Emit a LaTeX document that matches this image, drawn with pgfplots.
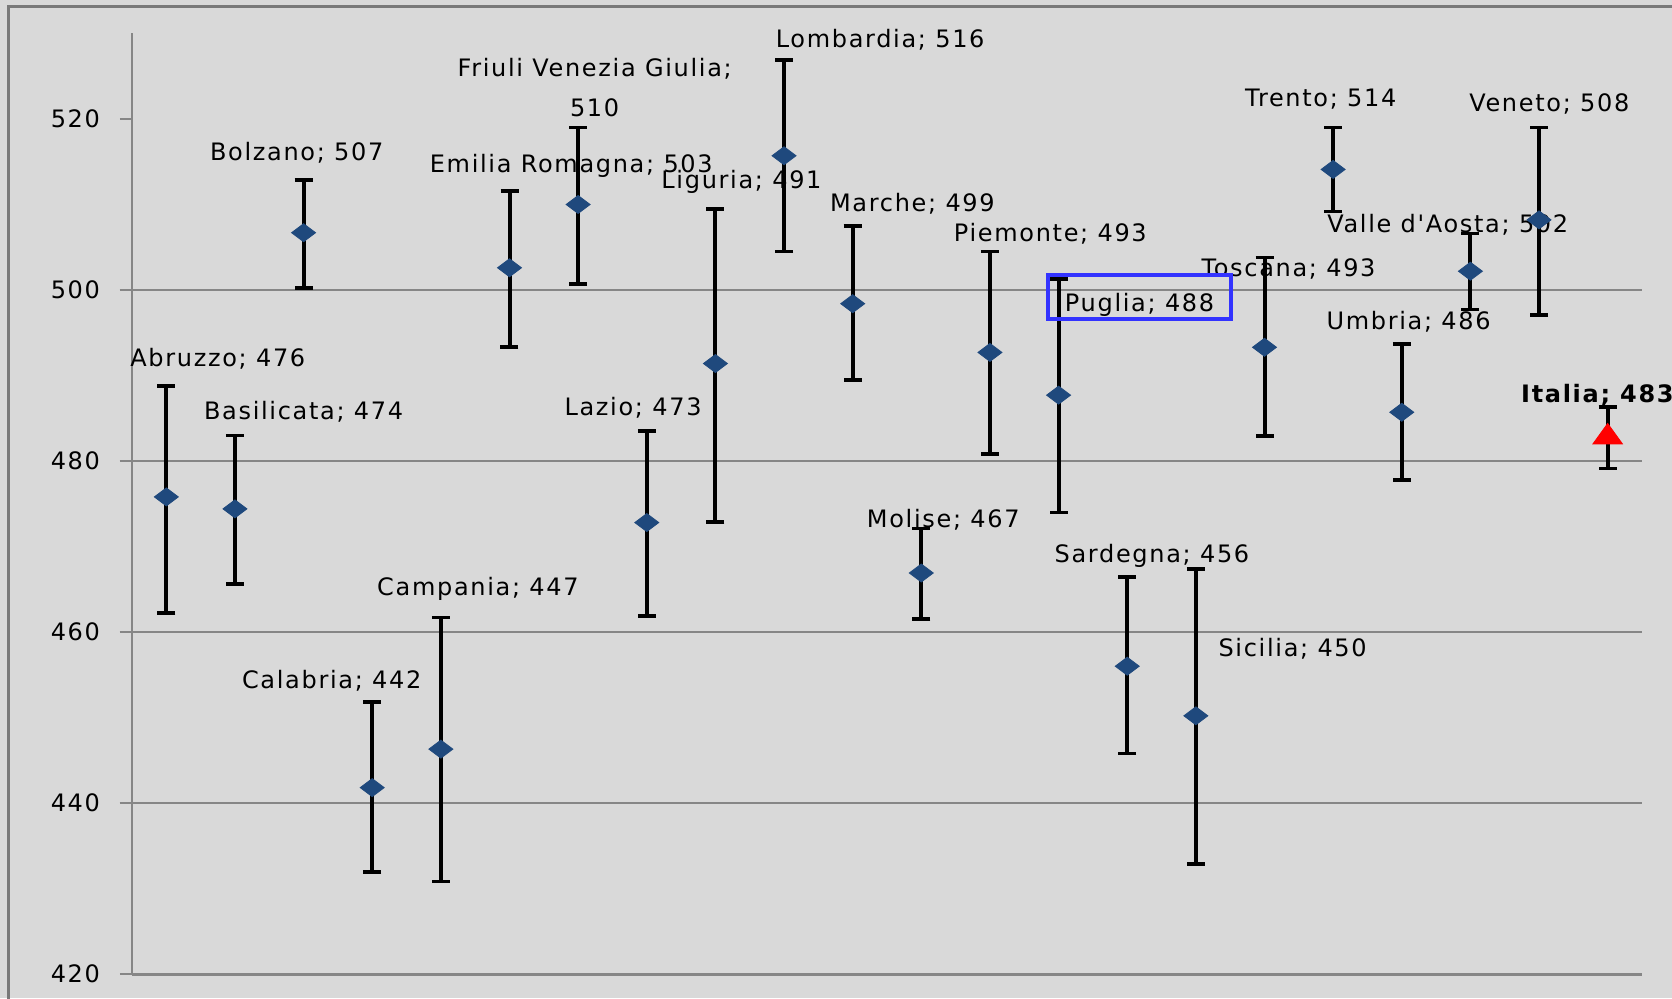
\documentclass[border=0pt]{standalone}
\usepackage{fontspec}
\setmainfont{DejaVu Sans}[LetterSpace=7]
\newfontfamily\plainfont{DejaVu Sans}[LetterSpace=7]
\usepackage{pgfplots}
\usepackage{pgfplotstable}
\pgfplotsset{compat=1.18}
\definecolor{bg}{HTML}{D9D9D9}
\definecolor{axgray}{HTML}{868686}
\definecolor{mkblue}{HTML}{1F497D}
\definecolor{boxblue}{HTML}{3333FF}

% idx, value, error plus, error minus
\pgfplotstableread{
x y ep em
0 475.8 13.0 13.6
1 474.4 8.6 8.8
2 506.7 6.2 6.5
3 441.8 10.0 9.9
4 446.3 15.4 15.5
5 502.6 9.0 9.3
6 510.0 9.0 9.3
7 472.8 10.7 10.9
8 491.4 18.1 18.5
9 515.7 11.2 11.2
10 498.4 9.1 8.9
11 466.9 5.2 5.4
12 492.7 11.8 11.9
13 487.7 13.6 13.7
14 456.0 10.4 10.2
15 450.2 17.2 17.3
16 493.3 10.5 10.4
17 514.1 4.9 4.9
18 485.7 8.0 7.9
19 502.2 4.4 4.5
20 508.2 10.8 11.1
}\regioni
\pgfplotstableread{
x y ep em
21 482.8 3.5 3.7
}\italia

\begin{document}
\begin{tikzpicture}
\useasboundingbox (-66pt,-12pt) rectangle (770pt,487pt);
\fill[bg] (-66pt,-12pt) rectangle (770pt,487pt);
\draw[axgray!90!black, line width=1.5pt] (-61.5pt,-40pt) rectangle (800pt,483.5pt);
\begin{axis}[
    at={(0,0)}, anchor=south west,
    scale only axis,
    width=755pt, height=470.25pt,
    xmin=-0.5, xmax=21.5,
    ymin=420, ymax=530,
    axis x line*=bottom, axis y line*=left,
    x axis line style={axgray, line width=1.5pt},
    y axis line style={axgray, line width=1pt},
    xtick=\empty,
    ytick={420,440,...,520},
    extra y ticks={440,460,480,500},
    extra y tick labels={},
    extra y tick style={grid=major, major grid style={axgray, line width=0.6pt}},
    major tick length=6pt,
    tick align=outside,
    y tick style={axgray, line width=0.8pt},
    every tick label/.append style={font=\fontsize{12}{14}\selectfont},
    yticklabel style={xshift=-6.5pt},
    /pgf/number format/assume math mode=true,
    clip=false,
]
\addplot[only marks, mark=diamond*, mark size=6pt,
    mark options={rotate=90, fill=mkblue, draw=mkblue},
    error bars/.cd, y dir=both, y explicit,
    error bar style={black, line width=2pt},
    error mark options={black, line width=1.8pt, mark size=4.5pt, rotate=90}]
    table[x=x, y=y, y error plus=ep, y error minus=em] {\regioni};
\addplot[only marks, mark=triangle*, mark size=8.5pt,
    mark options={fill=red, draw=red, yscale=0.8},
    error bars/.cd, y dir=both, y explicit,
    error bar style={black, line width=2pt},
    error mark options={black, line width=1.8pt, mark size=4.5pt, rotate=90}]
    table[x=x, y=y, y error plus=ep, y error minus=em] {\italia};

\begin{scope}[every node/.style={font=\fontsize{12}{14}\selectfont, inner sep=0pt}]
\node at (axis cs:0.75,491.9) {Abruzzo; 476};
\node at (axis cs:2.0,485.7) {Basilicata; 474};
\node at (axis cs:1.9,516.0) {Bolzano; 507};
\node at (axis cs:2.41,454.3) {Calabria; 442};
\node at (axis cs:4.54,465.0) {Campania; 447};
\node at (axis cs:5.9,514.5) {Emilia Romagna; 503};
\node[align=center, font=\fontsize{12}{20}\selectfont] at (axis cs:6.24,523.7) {Friuli Venezia Giulia;\\510};
\node at (axis cs:6.8,486.2) {Lazio; 473};
\node at (axis cs:8.38,512.6) {Liguria; 491};
\node at (axis cs:10.4,529.3) {Lombardia; 516};
\node at (axis cs:10.87,510.1) {Marche; 499};
\node at (axis cs:11.32,473.1) {Molise; 467};
\node at (axis cs:12.88,506.6) {Piemonte; 493};
\node at (axis cs:14.18,498.3) {Puglia; 488};
\node at (axis cs:14.36,468.9) {Sardegna; 456};
\node at (axis cs:16.41,458.0) {Sicilia; 450};
\node at (axis cs:16.35,502.5) {Toscana; 493};
\node at (axis cs:16.82,522.3) {Trento; 514};
\node at (axis cs:18.1,496.3) {Umbria; 486};
\node[font=\fontsize{12}{14}\plainfont] at (axis cs:18.67,507.6) {Valle d'Aosta; 502};
\node at (axis cs:20.15,521.8) {Veneto; 508};
\node[font=\fontsize{12}{14}\selectfont\bfseries] at (axis cs:20.85,487.7) {Italia; 483};
\end{scope}
\draw[boxblue, line width=2pt] (axis cs:12.85,501.7) rectangle (axis cs:15.51,496.6);
\end{axis}
\end{tikzpicture}
\end{document}
